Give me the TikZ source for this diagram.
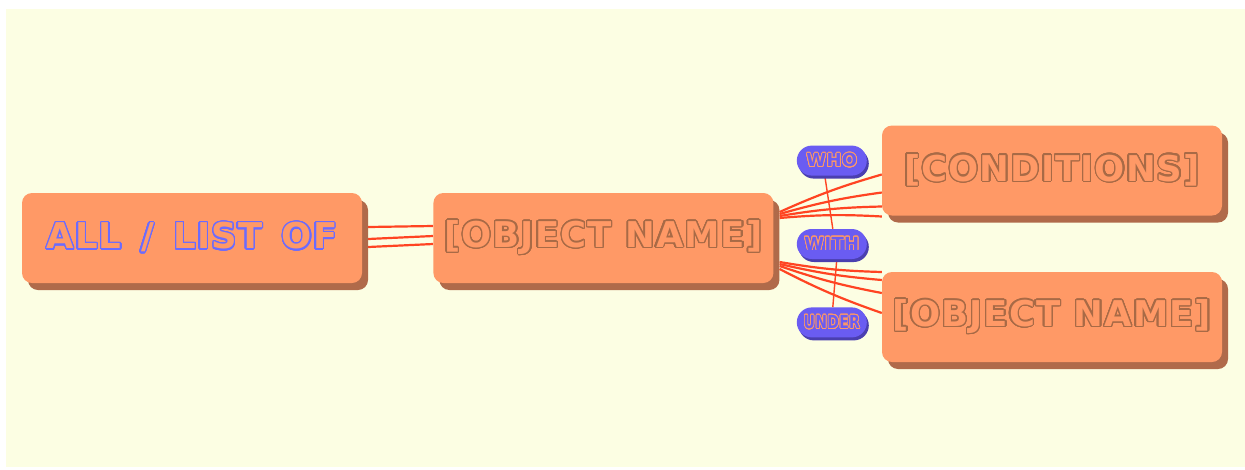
\documentclass[tikz,border=0pt]{standalone}
\usepackage{fontspec}
\setmainfont{DejaVu Sans}
\newfontfamily\cardfont{DejaVu Sans}[LetterSpace=3]
\newfontfamily\pillfont{DejaVu Sans}[LetterSpace=2]
\usepackage[copies]{contour}
\contournumber{24}
\usepackage{tikz}
\usetikzlibrary{positioning, shadows, shapes.misc, backgrounds}
\definecolor{paper}{HTML}{FCFEE3}
\definecolor{boxorange}{HTML}{FF9966}
\definecolor{boxshade}{HTML}{B06A4A}
\definecolor{inkbrown}{HTML}{A86A46}
\definecolor{inkblue}{HTML}{6B6BFF}
\definecolor{pillblue}{HTML}{6A5CF2}
\definecolor{pillshade}{HTML}{4A3FB0}
\definecolor{wirered}{HTML}{FF4422}
\newcommand{\hollow}[3]{\contour{#1}{\textcolor{#2}{#3}}}
\newcommand{\gap}{\hspace{.55em}}

\begin{document}
\begin{tikzpicture}[
    x=1pt, y=-1pt,
    card/.style={rectangle, rounded corners=10pt, fill=boxorange,
                 minimum width=340pt, minimum height=90pt, inner sep=0pt,
                 drop shadow={shadow xshift=6pt, shadow yshift=-7pt,
                              fill=boxshade, opacity=1},
                 font=\cardfont\bfseries\fontsize{35.5}{40}\selectfont},
    pill/.style={rounded rectangle, fill=pillblue,
                 minimum width=70pt, minimum height=30pt, inner sep=0pt,
                 drop shadow={shadow xshift=2pt, shadow yshift=-3pt,
                              fill=pillshade, opacity=1},
                 font=\pillfont\bfseries\fontsize{18}{20}\selectfont},
    wire/.style={draw=wirered, line width=2.2pt}
]
\contourlength{1.3pt}

\begin{scope}[on background layer]
  \fill[white] (0,0) rectangle (1245,469);
  \fill[paper] (6,9) rectangle (1245,467);
\end{scope}

% main row
\node[card] (all) at (192,238) {\hollow{inkblue}{boxorange}{ALL\gap/\gap LIST\gap OF}};
\node[card, right=71pt of all] (obj) {\hollow{inkbrown}{boxorange}{[OBJECT NAME]}};

% link words
\node[pill, right=23pt of obj, yshift=-6pt] (with) {\contourlength{0.8pt}\hollow{boxorange}{pillblue}{WITH}};
\node[pill, above=53pt of with] (who) {\contourlength{0.8pt}\hollow{boxorange}{pillblue}{WHO}};
\node[pill, below=48pt of with] (under) {\contourlength{0.8pt}\scalebox{0.78}[1]{\hollow{boxorange}{pillblue}{UNDER}}};

% targets
\node[card] (cond) at (1052,170.5) {\hollow{inkbrown}{boxorange}{[CONDITIONS]}};
\node[card] (obj2) at (1052,317) {\hollow{inkbrown}{boxorange}{[OBJECT NAME]}};

\begin{scope}[on background layer]
  \foreach \a/\b in {11/12, -1/2, -9/-6}
    \draw[wire] ([xshift=6pt, yshift=\a pt]all.east) -- ([yshift=\b pt]obj.west);
  \foreach \s/\e in {26/-4, 24/-22, 22/-36, 20/-46}
    \draw[wire] ([xshift=6pt, yshift=\s pt]obj.east) to[bend left=4] ([yshift=\e pt]cond.west);
  \foreach \s/\e in {-24/45, -26/37, -28/24, -31/4}
    \draw[wire] ([xshift=6pt, yshift=\s pt]obj.east) to[bend right=4] ([yshift=\e pt]obj2.west);
  \draw[wirered, line width=1.4pt] ([xshift=-7pt]who.south) -- ([xshift=1pt]with.north);
  \draw[wirered, line width=1.4pt] ([xshift=5pt]with.south) -- ([xshift=1pt]under.north);
\end{scope}

\useasboundingbox (0,0) rectangle (1245,469);
\end{tikzpicture}
\end{document}
